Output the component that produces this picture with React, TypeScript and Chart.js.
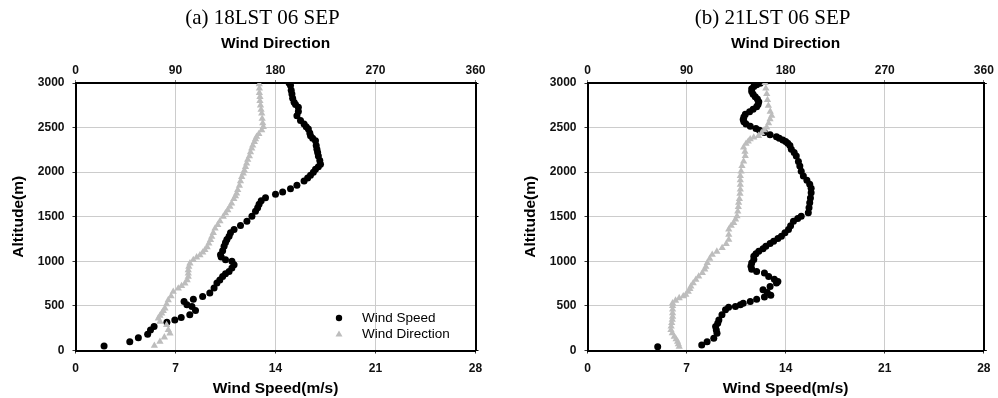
import React, { useEffect, useRef } from "react";
import { Chart, registerables } from "chart.js";

Chart.register(...registerables);

// ---------- text ----------
const titleA = "(a) 18LST 06 SEP";
const titleB = "(b) 21LST 06 SEP";
const speedLabel = "Wind Speed";
const dirLabel = "Wind Direction";
const speedAxisTitle = "Wind Speed(m/s)";
const dirAxisTitle = "Wind Direction";
const altAxisTitle = "Altitude(m)";

// ---------- axis ticks ----------
const speedTicks = [0, 7, 14, 21, 28];
const dirTicks = [0, 90, 180, 270, 360];
const altTicks = [0, 500, 1000, 1500, 2000, 2500, 3000];

// ---------- panel (a) 18LST ----------
const aSpeedAlt = [50, 99, 144, 182, 230, 268, 317, 343, 370, 400, 448, 493, 512, 550, 576, 606, 644, 700, 757, 790, 831, 860, 887, 925, 963, 1000, 1019, 1050, 1075, 1120, 1169, 1210, 1244, 1280, 1320, 1357, 1402, 1450, 1507, 1563, 1600, 1639, 1680, 1714, 1751, 1777, 1815, 1852, 1901, 1935, 1965, 2000, 2032, 2060, 2089, 2130, 2182, 2220, 2258, 2300, 2351, 2380, 2408, 2440, 2483, 2510, 2539, 2580, 2633, 2680, 2727, 2760, 2783, 2830, 2877, 2920, 2971, 3000];
const aSpeed = [2.0, 3.8, 4.4, 5.05, 5.25, 5.5, 6.4, 6.95, 7.4, 8.0, 8.4, 8.15, 7.8, 7.6, 8.25, 8.9, 9.4, 9.7, 9.9, 10.1, 10.3, 10.5, 10.75, 10.95, 11.1, 10.95, 10.5, 10.2, 10.15, 10.3, 10.4, 10.5, 10.6, 10.75, 10.85, 11.1, 11.55, 12.0, 12.35, 12.6, 12.75, 12.85, 13.0, 13.3, 14.0, 14.5, 15.05, 15.5, 16.0, 16.25, 16.45, 16.65, 16.8, 17.0, 17.15, 17.1, 17.0, 16.95, 16.9, 16.85, 16.8, 16.6, 16.45, 16.4, 16.3, 16.15, 16.0, 15.75, 15.5, 15.6, 15.6, 15.4, 15.3, 15.2, 15.15, 15.1, 15.05, 14.95];
const aDirAlt = [54, 100, 148, 193, 230, 286, 323, 361, 390, 417, 445, 473, 520, 566, 610, 659, 697, 725, 753, 790, 827, 865, 902, 940, 978, 1015, 1045, 1070, 1100, 1127, 1160, 1200, 1240, 1276, 1320, 1370, 1410, 1450, 1500, 1540, 1575, 1612, 1650, 1700, 1730, 1762, 1800, 1850, 1900, 1948, 1985, 2020, 2060, 2099, 2140, 2180, 2225, 2267, 2300, 2340, 2370, 2397, 2430, 2472, 2509, 2550, 2600, 2659, 2700, 2750, 2800, 2845, 2890, 2940, 2988];
const aDir = [71, 76, 80, 85, 83.5, 82, 76, 74.5, 76, 77.6, 79, 80.5, 82, 83.5, 86, 88, 92.5, 95.5, 98.5, 100.5, 101.5, 101.5, 101.5, 102, 103, 106, 109, 112, 114.5, 116.5, 118.5, 120, 121.5, 122.6, 124, 125.6, 128, 130, 133, 135, 137, 139, 140.5, 142.5, 144, 145, 146, 147.5, 148.5, 149.6, 151, 152, 153, 154, 155, 156.5, 157.5, 158.6, 159.5, 161, 162, 163, 165, 167.6, 169, 168.5, 168, 167.6, 167, 166.5, 166, 166, 165.5, 165.5, 165.4];

// ---------- panel (b) 21LST ----------
const bSpeedAlt = [43, 62, 99, 137, 193, 230, 268, 305, 343, 400, 456, 486, 493, 512, 531, 550, 576, 600, 620, 650, 681, 718, 757, 775, 800, 831, 869, 887, 910, 944, 980, 1020, 1056, 1085, 1113, 1140, 1169, 1200, 1225, 1255, 1282, 1320, 1357, 1400, 1450, 1480, 1507, 1545, 1600, 1658, 1710, 1770, 1820, 1864, 1910, 1957, 2010, 2070, 2120, 2182, 2220, 2258, 2300, 2323, 2345, 2360, 2380, 2397, 2420, 2445, 2470, 2491, 2515, 2540, 2565, 2590, 2620, 2650, 2678, 2705, 2733, 2760, 2789, 2820, 2845, 2875, 2905, 2935, 2960, 2980, 2996];
const bSpeed = [4.96, 8.07, 8.45, 8.92, 9.15, 9.1, 9.05, 9.2, 9.28, 9.5, 9.75, 9.97, 10.45, 10.8, 11.0, 11.5, 11.95, 12.5, 12.95, 12.7, 12.4, 12.9, 13.35, 13.45, 13.2, 12.8, 12.5, 11.95, 11.6, 11.55, 11.6, 11.75, 11.75, 11.9, 12.1, 12.4, 12.6, 12.9, 13.15, 13.45, 13.7, 13.95, 14.2, 14.35, 14.55, 14.85, 15.1, 15.6, 15.65, 15.7, 15.75, 15.8, 15.8, 15.7, 15.5, 15.25, 15.1, 15.0, 14.9, 14.75, 14.6, 14.4, 14.3, 14.15, 14.0, 13.8, 13.55, 13.35, 12.9, 12.5, 12.15, 11.9, 11.5, 11.2, 11.05, 11.0, 11.05, 11.15, 11.45, 11.7, 11.95, 12.05, 12.1, 12.0, 11.85, 11.7, 11.6, 11.6, 11.75, 11.95, 12.2];
const bDirAlt = [43, 70, 99, 128, 156, 195, 231, 270, 310, 345, 381, 420, 460, 500, 531, 560, 588, 610, 625, 660, 690, 718, 755, 794, 830, 869, 910, 940, 982, 1030, 1075, 1110, 1151, 1195, 1244, 1300, 1357, 1400, 1432, 1470, 1507, 1560, 1610, 1658, 1700, 1760, 1807, 1860, 1910, 1957, 2010, 2070, 2120, 2182, 2230, 2277, 2320, 2345, 2370, 2390, 2408, 2440, 2470, 2502, 2550, 2595, 2633, 2680, 2745, 2810, 2877, 2940, 3000];
const bDir = [83.3, 82.5, 81.8, 80.5, 78.8, 77, 75.8, 76, 76.5, 77, 77.3, 77.3, 77.3, 77.3, 77.3, 80, 83.3, 87, 89.3, 91.5, 93, 93.9, 96, 98.4, 101, 104.3, 106.5, 107.5, 108.8, 111, 113.3, 117.5, 122.3, 126, 128.3, 128.3, 128.3, 130.5, 132.8, 134.5, 135.8, 136.5, 137, 137.3, 138, 138.5, 138.8, 138.8, 138.8, 138.8, 139.5, 140.3, 141.8, 143.3, 143, 141.8, 144, 146, 147.8, 151, 155.3, 158, 160.5, 162.8, 164.5, 165.8, 167.3, 166, 164.3, 163.5, 162.8, 162, 161.3];

// ---------- style ----------
const FONT = "'Liberation Sans', Arial, sans-serif";
const SERIF = "'Liberation Serif', 'Times New Roman', serif";
const SPEED_COLOR = "#000000";
const DIR_COLOR = "#bdbdbd";
const GRID_COLOR = "#cccccc";
const CANVAS_H = 398;
const AREA_LEFT = 75.5;
const AREA_RIGHT = 475.5;
const AREA_TOP = 83;
const AREA_BOTTOM = 350.5;

const plainLabel = (v: any) => String(v);

function panelPlugin(title: string, showLegend: boolean) {
  return {
    id: "panelDecor",
    afterDraw(chart: any) {
      const { ctx, chartArea } = chart;
      ctx.save();
      ctx.fillStyle = "#000";
      ctx.font = `21px ${SERIF}`;
      ctx.textAlign = "center";
      ctx.textBaseline = "middle";
      ctx.fillText(title, (chartArea.left + chartArea.right) / 2 - 13, 18);
      if (showLegend) {
        const mx = chartArea.left + 263.5;
        const tx = chartArea.left + 286.5;
        const y1 = chartArea.bottom - 32.5;
        const y2 = chartArea.bottom - 16.5;
        ctx.fillStyle = SPEED_COLOR;
        ctx.beginPath();
        ctx.arc(mx, y1, 3.2, 0, Math.PI * 2);
        ctx.fill();
        ctx.fillStyle = DIR_COLOR;
        ctx.beginPath();
        ctx.moveTo(mx, y2 - 3.5);
        ctx.lineTo(mx + 3.5, y2 + 2.5);
        ctx.lineTo(mx - 3.5, y2 + 2.5);
        ctx.closePath();
        ctx.fill();
        ctx.fillStyle = "#000";
        ctx.font = `13.5px ${FONT}`;
        ctx.textAlign = "left";
        ctx.fillText(speedLabel, tx, y1);
        ctx.fillText(dirLabel, tx, y2);
      }
      ctx.restore();
    },
  };
}

function makeConfig(
  title: string,
  speedAlt: number[],
  speed: number[],
  dirAlt: number[],
  dir: number[],
  showLegend: boolean,
  width: number
): any {
  const tickFont = { family: FONT, size: 12, weight: "bold" as const };
  const titleFont = { family: FONT, size: 15.5, weight: "bold" as const };
  return {
    type: "scatter",
    data: {
      datasets: [
        {
          label: dirLabel,
          data: dir.map((v, i) => ({ x: v, y: dirAlt[i] })),
          xAxisID: "x2",
          yAxisID: "y",
          pointStyle: "triangle",
          pointRadius: 4.2,
          pointHoverRadius: 4.2,
          backgroundColor: DIR_COLOR,
          borderColor: DIR_COLOR,
          borderWidth: 0,
          showLine: false,
        },
        {
          label: speedLabel,
          data: speed.map((v, i) => ({ x: v, y: speedAlt[i] })),
          xAxisID: "x",
          yAxisID: "y",
          pointStyle: "circle",
          pointRadius: 3.5,
          pointHoverRadius: 3.5,
          backgroundColor: SPEED_COLOR,
          borderColor: SPEED_COLOR,
          borderWidth: 0,
          showLine: false,
        },
      ],
    },
    options: {
      responsive: false,
      maintainAspectRatio: false,
      animation: false,
      events: [],
      layout: { padding: 0 },
      plugins: { legend: { display: false }, title: { display: false }, tooltip: { enabled: false } },
      scales: {
        x: {
          type: "linear",
          position: "bottom",
          min: speedTicks[0],
          max: speedTicks[speedTicks.length - 1],
          afterBuildTicks: (s: any) => { s.ticks = speedTicks.map((v) => ({ value: v })); },
          ticks: { font: tickFont, color: "#111", padding: 7.5, callback: plainLabel },
          grid: { color: GRID_COLOR, lineWidth: 1, tickLength: 3, tickColor: "#333", drawTicks: true },
          border: { color: "#000", width: 2 },
          title: { display: true, text: speedAxisTitle, font: titleFont, color: "#000", padding: { top: 0, bottom: 0 } },
          afterFit: (s: any) => { s.height = CANVAS_H - AREA_BOTTOM; },
        },
        x2: {
          type: "linear",
          position: "top",
          min: dirTicks[0],
          max: dirTicks[dirTicks.length - 1],
          afterBuildTicks: (s: any) => { s.ticks = dirTicks.map((v) => ({ value: v })); },
          ticks: { font: tickFont, color: "#111", padding: 2, callback: plainLabel },
          grid: { drawOnChartArea: false, tickLength: 3, tickColor: "#777" },
          border: { color: "#000", width: 2 },
          title: { display: true, text: dirAxisTitle, font: titleFont, color: "#000", padding: { top: 34, bottom: 0 } },
          afterFit: (s: any) => { s.height = AREA_TOP; },
        },
        y: {
          type: "linear",
          position: "left",
          min: altTicks[0],
          max: altTicks[altTicks.length - 1],
          afterBuildTicks: (s: any) => { s.ticks = altTicks.map((v) => ({ value: v })); },
          ticks: { font: tickFont, color: "#111", padding: 8, callback: plainLabel },
          grid: { color: GRID_COLOR, lineWidth: 1, tickLength: 3, tickColor: "#333" },
          border: { color: "#000", width: 2 },
          title: { display: true, text: altAxisTitle, font: titleFont, color: "#000", padding: { top: 9, bottom: 0 } },
          afterFit: (s: any) => { s.width = AREA_LEFT; },
        },
        y2: {
          type: "linear",
          position: "right",
          min: altTicks[0],
          max: altTicks[altTicks.length - 1],
          afterBuildTicks: (s: any) => { s.ticks = [altTicks[0], altTicks[3], altTicks[6]].map((v) => ({ value: v })); },
          ticks: { display: false },
          grid: { drawOnChartArea: false, tickLength: 3, tickColor: "#000" },
          border: { color: "#000", width: 2 },
          afterFit: (s: any) => { s.width = width - AREA_RIGHT; },
        },
      },
    },
    plugins: [panelPlugin(title, showLegend)],
  };
}

function Panel(props: {
  left: number;
  width: number;
  title: string;
  speedAlt: number[];
  speed: number[];
  dirAlt: number[];
  dir: number[];
  legend: boolean;
}) {
  const ref = useRef<HTMLCanvasElement | null>(null);
  useEffect(() => {
    if (!ref.current) return;
    const chart = new Chart(
      ref.current,
      makeConfig(props.title, props.speedAlt, props.speed, props.dirAlt, props.dir, props.legend, props.width)
    );
    return () => chart.destroy();
  }, []);
  return (
    <canvas
      ref={ref}
      width={props.width}
      height={CANVAS_H}
      style={{ position: "absolute", left: props.left, top: 0, width: props.width, height: CANVAS_H }}
    />
  );
}

export default function App() {
  return (
    <div
      style={{
        position: "fixed",
        left: 0,
        top: 0,
        width: 998,
        height: 398,
        background: "#ffffff",
        overflow: "hidden",
      }}
    >
      <Panel left={0} width={500} title={titleA} speedAlt={aSpeedAlt} speed={aSpeed} dirAlt={aDirAlt} dir={aDir} legend={true} />
      <Panel left={512} width={486} title={titleB} speedAlt={bSpeedAlt} speed={bSpeed} dirAlt={bDirAlt} dir={bDir} legend={false} />
    </div>
  );
}
